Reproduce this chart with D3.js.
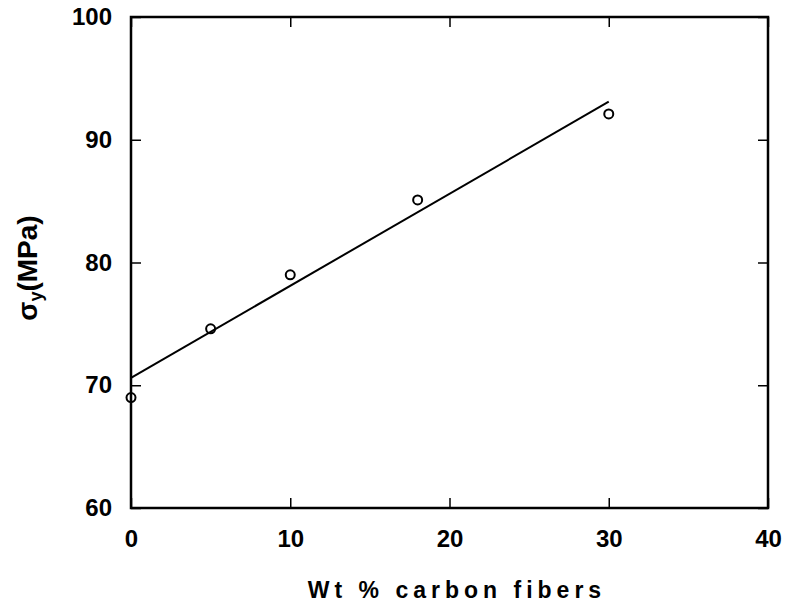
<!DOCTYPE html>
<html>
<head>
<meta charset="utf-8">
<script src="https://cdn.jsdelivr.net/npm/d3@7"></script>
<style>
  body { margin: 0; background: #fff; }
  text { font-family: "Liberation Sans", Arial, sans-serif; font-weight: bold; fill: #000; }
</style>
</head>
<body>
<div id="chart"></div>
<script>
const wtPct = [0, 5, 10, 18, 30];
const sigmaY = [69.0, 74.6, 79.0, 85.1, 92.1];
const fitX = [0, 30];
const fitY = [70.6, 93.1];
const xTicks = [0, 10, 20, 30, 40];
const yTicks = [60, 70, 80, 90, 100];

const W = 794, H = 613;
const margin = { top: 17, right: 26, bottom: 105, left: 131 };
const width = W - margin.left - margin.right;
const height = H - margin.top - margin.bottom;

const svg = d3.select('#chart').append('svg').attr('width', W).attr('height', H);
const g = svg.append('g').attr('transform', `translate(${margin.left},${margin.top})`);

const x = d3.scaleLinear().domain([0, 40]).range([0, width]);
const y = d3.scaleLinear().domain([60, 100]).range([height, 0]);

// axes, ticks pointing inward
const axisStyle = sel => {
  sel.select('.domain').remove();
  sel.selectAll('.tick line').attr('stroke', '#000').attr('stroke-width', 1.5);
  sel.selectAll('.tick text').style('font-size', '24px');
};

g.append('g').attr('transform', `translate(0,${height})`)
  .call(d3.axisBottom(x).tickValues(xTicks).tickSize(-10).tickPadding(22).tickFormat(d3.format('d')))
  .call(axisStyle);
g.append('g')
  .call(d3.axisLeft(y).tickValues(yTicks).tickSize(-10).tickPadding(19).tickFormat(d3.format('d')))
  .call(axisStyle);
g.append('g').attr('transform', `translate(${width},0)`)
  .call(d3.axisRight(y).tickValues(yTicks).tickSize(-10).tickFormat(''))
  .call(axisStyle);
g.append('g')
  .call(d3.axisTop(x).tickValues(xTicks).tickSize(-10).tickFormat(''))
  .call(axisStyle);

// frame
g.append('rect').attr('width', width).attr('height', height)
  .attr('fill', 'none').attr('stroke', '#000').attr('stroke-width', 2.5);

// fit line
g.append('path')
  .datum(d3.zip(fitX, fitY))
  .attr('fill', 'none').attr('stroke', '#000').attr('stroke-width', 2)
  .attr('d', d3.line().x(d => x(d[0])).y(d => y(d[1])));

// data points
g.selectAll('circle.pt').data(d3.zip(wtPct, sigmaY)).join('circle')
  .attr('class', 'pt')
  .attr('cx', d => x(d[0])).attr('cy', d => y(d[1])).attr('r', 4.5)
  .attr('fill', 'none').attr('stroke', '#000').attr('stroke-width', 2);

// axis titles
svg.append('text')
  .attr('x', 457).attr('y', 598)
  .attr('text-anchor', 'middle').style('font-size', '23px').style('letter-spacing', '5px')
  .text('Wt % carbon fibers');

const yl = svg.append('text')
  .attr('transform', 'translate(37,268) rotate(-90)')
  .attr('text-anchor', 'middle').style('font-size', '28px');
yl.append('tspan').text('σ');
yl.append('tspan').attr('dy', 5).style('font-size', '18px').text('y');
yl.append('tspan').attr('dy', -5).text('(MPa)');
</script>
</body>
</html>
